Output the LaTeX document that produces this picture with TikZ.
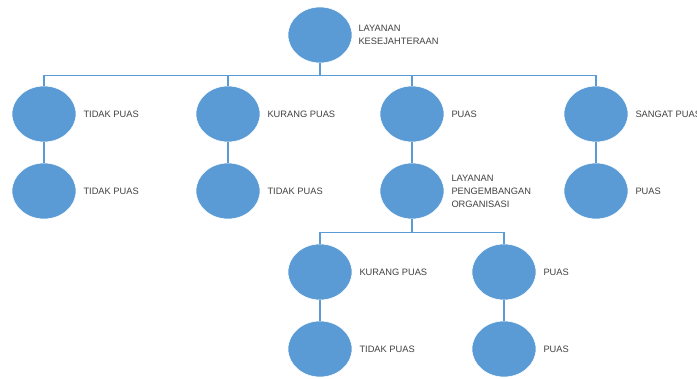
\documentclass[tikz,border=0pt]{standalone}
\usepackage{fontspec}
\setmainfont{Liberation Sans}
\usepackage{tikz}
\usetikzlibrary{shapes.geometric, positioning}

\definecolor{bubble}{HTML}{5B9BD5}
\definecolor{labelgray}{HTML}{404040}

\begin{document}
\begin{tikzpicture}[x=1pt, y=-1pt,
    bub/.style={ellipse, fill=bubble, draw=white, line width=0.6pt,
      minimum width=64pt, minimum height=56pt, inner sep=0pt},
    txt/.style={font=\fontsize{9.3}{13}\selectfont, text=labelgray,
      align=left, inner sep=0pt},
    link/.style={draw=bubble, line width=1.3pt}]

  \useasboundingbox (0,0) rectangle (697,379);

  % Root
  \node[bub] (root) at (320,35) {};
  \node[txt, right=6pt of root] (rootT) {LAYANAN\\KESEJAHTERAAN};

  % First level
  \node[bub] (a1) at (44,114) {};
  \node[bub] (b1) at (228,114) {};
  \node[bub] (c1) at (412,114) {};
  \node[bub] (d1) at (596,114) {};
  \node[txt, right=7pt of a1] (a1T) {TIDAK PUAS};
  \node[txt, right=7pt of b1] (b1T) {KURANG PUAS};
  \node[txt, right=7pt of c1] (c1T) {PUAS};
  \node[txt, right=7pt of d1] (d1T) {SANGAT PUAS};

  % Second level
  \node[bub] (a2) at (44,191) {};
  \node[bub] (b2) at (228,191) {};
  \node[bub] (c2) at (412,191) {};
  \node[bub] (d2) at (596,191) {};
  \node[txt, right=7pt of a2] (a2T) {TIDAK PUAS};
  \node[txt, right=7pt of b2] (b2T) {TIDAK PUAS};
  \node[txt, right=7pt of c2] (c2T) {LAYANAN\\PENGEMBANGAN\\ORGANISASI};
  \node[txt, right=7pt of d2] (d2T) {PUAS};

  % Organisasi subtree
  \node[bub] (e1) at (320,272) {};
  \node[bub] (f1) at (504,272) {};
  \node[bub] (e2) at (320,349) {};
  \node[bub] (f2) at (504,349) {};
  \node[txt, right=7pt of e1] (e1T) {KURANG PUAS};
  \node[txt, right=7pt of f1] (f1T) {PUAS};
  \node[txt, right=7pt of e2] (e2T) {TIDAK PUAS};
  \node[txt, right=7pt of f2] (f2T) {PUAS};

  % Connectors
  \foreach \ch in {a1, b1, c1, d1}
    \draw[link] (root.south) -- ++(0,12) -| (\ch.north);
  \foreach \ch in {e1, f1}
    \draw[link] (c2.south) -- ++(0,13) -| (\ch.north);
  \foreach \up/\dn in {a1/a2, b1/b2, c1/c2, d1/d2, e1/e2, f1/f2}
    \draw[link] (\up.south) -- (\dn.north);

\end{tikzpicture}
\end{document}
